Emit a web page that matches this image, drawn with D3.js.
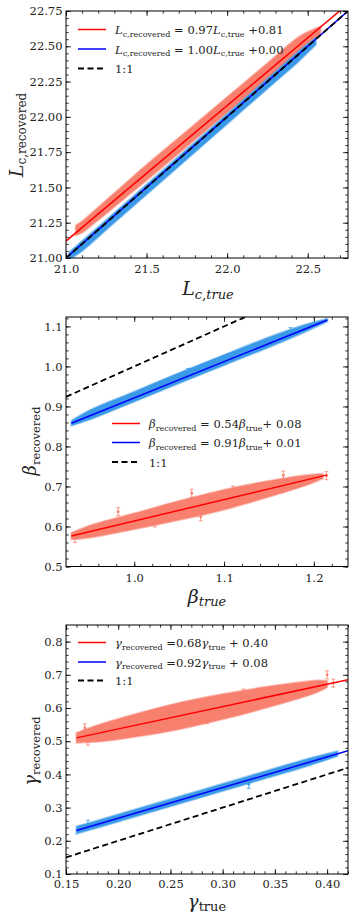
<!DOCTYPE html>
<html>
<head>
<meta charset="utf-8">
<script src="https://cdn.jsdelivr.net/npm/d3@7"></script>
<style>
  body { margin: 0; background: #fff; }
  svg { display: block; }
  svg text { font-family: "DejaVu Serif", "Liberation Serif", "Times New Roman", serif !important; fill: #222; }
</style>
</head>
<body>
<div class="chart"></div>
<script>
// ---- panel 1 : L_c
const lcTicksX = [21.0, 21.5, 22.0, 22.5]
const lcTicksY = [21.0, 21.25, 21.5, 21.75, 22.0, 22.25, 22.5, 22.75]
const lcRedX  = [21.06, 21.10, 21.20, 21.35, 21.50, 21.75, 22.00, 22.25, 22.45, 22.58]
const lcRedLo = [21.16, 21.18, 21.27, 21.41, 21.55, 21.79, 22.03, 22.27, 22.47, 22.59]
const lcRedHi = [21.23, 21.26, 21.36, 21.51, 21.66, 21.90, 22.14, 22.38, 22.57, 22.64]
const lcBlueX  = [21.02, 21.10, 21.25, 21.50, 21.75, 22.00, 22.25, 22.45, 22.55]
const lcBlueLo = [20.99, 21.05, 21.20, 21.45, 21.70, 21.95, 22.20, 22.40, 22.51]
const lcBlueHi = [21.04, 21.12, 21.27, 21.52, 21.77, 22.02, 22.27, 22.47, 22.56]
const lcFitX = [21.0, 22.75]
const lcRedFitY = [21.12, 22.80]
const lcBlueFitY = [21.0, 22.75]

// ---- panel 2 : beta
const betaTicksX = [1.0, 1.1, 1.2]
const betaTicksY = [0.5, 0.6, 0.7, 0.8, 0.9, 1.0, 1.1]
const betaRedX  = [0.93, 0.95, 1.00, 1.05, 1.10, 1.15, 1.19, 1.21]
const betaRedLo = [0.568, 0.572, 0.593, 0.616, 0.642, 0.674, 0.702, 0.720]
const betaRedHi = [0.584, 0.602, 0.633, 0.664, 0.692, 0.714, 0.728, 0.732]
const betaBlueX  = [0.93, 0.95, 1.00, 1.05, 1.10, 1.15, 1.19, 1.215]
const betaBlueLo = [0.852, 0.867, 0.912, 0.958, 1.003, 1.048, 1.086, 1.112]
const betaBlueHi = [0.864, 0.890, 0.937, 0.984, 1.029, 1.073, 1.104, 1.119]
const betaRedOutX = [0.934, 0.982, 1.023, 1.064, 1.074, 1.110, 1.166, 1.214]
const betaRedOutY = [0.570, 0.637, 0.609, 0.683, 0.624, 0.691, 0.728, 0.727]
const betaBlueOutX = [1.174, 1.060]
const betaBlueOutY = [1.087, 0.985]
const betaFitX = [0.93, 1.215]
const betaRedFitY = [0.576, 0.729]
const betaBlueFitY = [0.858, 1.116]
const betaOneX = [0.924, 1.238]

// ---- panel 3 : gamma
const gammaTicksX = [0.15, 0.20, 0.25, 0.30, 0.35, 0.40]
const gammaTicksY = [0.1, 0.2, 0.3, 0.4, 0.5, 0.6, 0.7, 0.8]
const gammaRedX  = [0.16, 0.18, 0.22, 0.26, 0.30, 0.34, 0.37, 0.39, 0.40]
const gammaRedLo = [0.495, 0.498, 0.515, 0.537, 0.566, 0.599, 0.626, 0.647, 0.662]
const gammaRedHi = [0.525, 0.548, 0.585, 0.617, 0.642, 0.663, 0.676, 0.683, 0.682]
const gammaBlueX  = [0.16, 0.18, 0.22, 0.26, 0.30, 0.34, 0.38, 0.41]
const gammaBlueLo = [0.221, 0.239, 0.276, 0.313, 0.350, 0.387, 0.424, 0.455]
const gammaBlueHi = [0.243, 0.261, 0.298, 0.335, 0.372, 0.409, 0.446, 0.470]
const gammaRedOutX = [0.168, 0.171, 0.189, 0.230, 0.285, 0.320, 0.400, 0.406]
const gammaRedOutY = [0.540, 0.500, 0.535, 0.575, 0.565, 0.645, 0.700, 0.675]
const gammaBlueOutX = [0.171, 0.325]
const gammaBlueOutY = [0.250, 0.370]
const gammaFitX = [0.16, 0.42]
const gammaRedFitY = [0.51, 0.685]
const gammaBlueFitY = [0.231, 0.471]
const gammaOneX = [0.15, 0.42]

const salmon = "#f8806f"
const skyblue = "#3a9ae8"
const serif = '"DejaVu Serif", "Liberation Serif", "Times New Roman", serif'

const svg = d3.select(".chart").append("svg")
  .attr("width", 357)
  .attr("height", 920)
  .attr("font-family", serif)

const zip = (a, b, c) => a.map((v, i) => c ? [v, b[i], c[i]] : [v, b[i]])

const panels = [
  {
    id: 1, top: 11, bottom: 258,
    xDomain: [21.0, 22.75], yDomain: [21.0, 22.75],
    xTicks: lcTicksX, yTicks: lcTicksY, xMinor: 0.1, yMinor: 0.05,
    xFmt: d3.format(".1f"), yFmt: d3.format(".2f"),
    bands: [
      { pts: zip(lcRedX, lcRedLo, lcRedHi), color: salmon },
      { pts: zip(lcBlueX, lcBlueLo, lcBlueHi), color: skyblue }
    ],
    outliers: [],
    lines: [
      { pts: zip(lcFitX, lcBlueFitY), color: "#0000ff" },
      { pts: zip(lcFitX, lcRedFitY), color: "#ff0000" },
      { pts: zip(lcFitX, lcFitX), color: "#000", dash: true }
    ],
    labelPad: 7
  },
  {
    id: 2, top: 317, bottom: 566.5,
    xDomain: [0.924, 1.238], yDomain: [0.5, 1.1235],
    xTicks: betaTicksX, yTicks: betaTicksY, xMinor: 0.02, yMinor: 0.02,
    xFmt: d3.format(".1f"), yFmt: d3.format(".1f"),
    bands: [
      { pts: zip(betaRedX, betaRedLo, betaRedHi), color: salmon },
      { pts: zip(betaBlueX, betaBlueLo, betaBlueHi), color: skyblue }
    ],
    outliers: [
      { pts: zip(betaRedOutX, betaRedOutY), color: salmon },
      { pts: zip(betaBlueOutX, betaBlueOutY), color: skyblue }
    ],
    lines: [
      { pts: zip(betaFitX, betaRedFitY), color: "#ff0000" },
      { pts: zip(betaFitX, betaBlueFitY), color: "#0000ff" },
      { pts: zip(betaOneX, betaOneX), color: "#000", dash: true }
    ],
    labelPad: 7
  },
  {
    id: 3, top: 625, bottom: 874,
    xDomain: [0.15, 0.42], yDomain: [0.1, 0.85],
    xTicks: gammaTicksX, yTicks: gammaTicksY, xMinor: 0.01, yMinor: 0.02,
    xFmt: d3.format(".2f"), yFmt: d3.format(".1f"),
    bands: [
      { pts: zip(gammaRedX, gammaRedLo, gammaRedHi), color: salmon },
      { pts: zip(gammaBlueX, gammaBlueLo, gammaBlueHi), color: skyblue }
    ],
    outliers: [
      { pts: zip(gammaRedOutX, gammaRedOutY), color: salmon },
      { pts: zip(gammaBlueOutX, gammaBlueOutY), color: skyblue }
    ],
    lines: [
      { pts: zip(gammaFitX, gammaRedFitY), color: "#ff0000" },
      { pts: zip(gammaFitX, gammaBlueFitY), color: "#0000ff" },
      { pts: zip(gammaOneX, gammaOneX), color: "#000", dash: true }
    ],
    labelPad: 6
  }
]

const left = 66, right = 348

// minor tick values between domain ends
const minorTicks = (dom, step) => {
  const out = []
  const n0 = Math.ceil(dom[0] / step - 1e-6), n1 = Math.floor(dom[1] / step + 1e-6)
  for (let n = n0; n <= n1; n++) out.push(+(n * step).toFixed(4))
  return out
}

panels.forEach(p => {
  const x = d3.scaleLinear().domain(p.xDomain).range([left, right])
  const y = d3.scaleLinear().domain(p.yDomain).range([p.bottom, p.top])
  const g = svg.append("g")

  g.append("clipPath").attr("id", "clip" + p.id)
    .append("rect")
    .attr("x", left).attr("y", p.top)
    .attr("width", right - left).attr("height", p.bottom - p.top)

  const plot = g.append("g").attr("clip-path", `url(#clip${p.id})`)

  // scatter clouds drawn as bands
  const area = d3.area()
    .x(d => x(d[0])).y0(d => y(d[1])).y1(d => y(d[2]))
    .curve(d3.curveCatmullRom)
  p.bands.forEach(b => {
    plot.append("path").datum(b.pts)
      .attr("d", area)
      .attr("fill", b.color)
      .attr("stroke", b.color)
      .attr("stroke-width", 2)
      .attr("stroke-opacity", 0.5)
  })

  // stray points with error bars
  p.outliers.forEach(o => {
    const sel = plot.selectAll(null).data(o.pts).enter().append("g")
    sel.append("line")
      .attr("x1", d => x(d[0])).attr("x2", d => x(d[0]))
      .attr("y1", d => y(d[1]) - 4).attr("y2", d => y(d[1]) + 4)
      .attr("stroke", o.color).attr("stroke-width", 0.8)
    sel.append("line")
      .attr("x1", d => x(d[0]) - 2).attr("x2", d => x(d[0]) + 2)
      .attr("y1", d => y(d[1]) - 4).attr("y2", d => y(d[1]) - 4)
      .attr("stroke", o.color).attr("stroke-width", 0.8)
    sel.append("line")
      .attr("x1", d => x(d[0]) - 2).attr("x2", d => x(d[0]) + 2)
      .attr("y1", d => y(d[1]) + 4).attr("y2", d => y(d[1]) + 4)
      .attr("stroke", o.color).attr("stroke-width", 0.8)
    sel.append("circle")
      .attr("cx", d => x(d[0])).attr("cy", d => y(d[1]))
      .attr("r", 1.4).attr("fill", o.color)
  })

  const line = d3.line().x(d => x(d[0])).y(d => y(d[1]))
  p.lines.forEach(l => {
    plot.append("path").datum(l.pts)
      .attr("d", line)
      .attr("fill", "none")
      .attr("stroke", l.color)
      .attr("stroke-width", l.dash ? 1.8 : 1.5)
      .attr("stroke-dasharray", l.dash ? "6,3.5" : null)
  })

  // axes: major + minor on all four sides, ticks pointing in
  const axes = [
    [d3.axisBottom(x), "translate(0," + p.bottom + ")", p.xTicks, p.xDomain, p.xMinor, p.xFmt],
    [d3.axisTop(x), "translate(0," + p.top + ")", p.xTicks, p.xDomain, p.xMinor, null],
    [d3.axisLeft(y), "translate(" + left + ",0)", p.yTicks, p.yDomain, p.yMinor, p.yFmt],
    [d3.axisRight(y), "translate(" + right + ",0)", p.yTicks, p.yDomain, p.yMinor, null]
  ]
  axes.forEach(([ax, tr, ticks, dom, step, fmt], i) => {
    const major = g.append("g").attr("transform", tr)
      .call(ax.tickValues(ticks).tickSize(-5)
        .tickPadding(i === 0 ? p.labelPad : 3.5)
        .tickFormat(fmt ? fmt : ""))
      .attr("font-family", serif)
    major.select(".domain").remove()
    major.selectAll("text").attr("font-size", 11.5).attr("fill", "#222")
    const minor = g.append("g").attr("transform", tr)
      .call(ax.tickValues(minorTicks(dom, step)).tickSize(-2.7).tickFormat(""))
    minor.select(".domain").remove()
    g.selectAll(".tick line").attr("stroke", "#000").attr("stroke-width", 0.8)
  })

  g.append("rect")
    .attr("x", left).attr("y", p.top)
    .attr("width", right - left).attr("height", p.bottom - p.top)
    .attr("fill", "none").attr("stroke", "#000").attr("stroke-width", 1)
})

// ---- axis titles (math-like text with subscripts)
function mathText(sel, parts) {
  parts.forEach(pt => {
    const t = sel.append("tspan").text(pt.t)
    if (pt.size) t.attr("font-size", pt.size)
    if (pt.it) t.attr("font-style", "italic")
    if (pt.dy) t.attr("dy", pt.dy)
  })
  return sel
}

// x titles
mathText(svg.append("text").attr("x", 208).attr("y", 295).attr("text-anchor", "middle").attr("font-size", 19),
  [{ t: "L", it: true }, { t: "c,true", it: true, size: 13, dy: 4 }])
mathText(svg.append("text").attr("x", 207).attr("y", 603).attr("text-anchor", "middle").attr("font-size", 19),
  [{ t: "β", it: true }, { t: "true", it: true, size: 13, dy: 3 }])
mathText(svg.append("text").attr("x", 207).attr("y", 908).attr("text-anchor", "middle").attr("font-size", 18),
  [{ t: "γ", it: true }, { t: "true", size: 13, dy: 3 }])

// y titles
mathText(svg.append("text").attr("transform", "translate(23,135) rotate(-90)").attr("text-anchor", "middle").attr("font-size", 19),
  [{ t: "L", it: true }, { t: "c,recovered", size: 12, dy: 3 }])
mathText(svg.append("text").attr("transform", "translate(36,441) rotate(-90)").attr("text-anchor", "middle").attr("font-size", 18),
  [{ t: "β", it: true }, { t: "recovered", size: 11.5, dy: 4 }])
mathText(svg.append("text").attr("transform", "translate(37,751) rotate(-90)").attr("text-anchor", "middle").attr("font-size", 18),
  [{ t: "γ", it: true }, { t: "recovered", size: 11.5, dy: 3 }])

// ---- legends
const legendRows = [
  { x: 78, y: 29.5, color: "#ff0000", parts: [{ t: "L", it: true }, { t: "c,recovered", size: 8, dy: 2.5 }, { t: " = 0.97", dy: -2.5 }, { t: "L", it: true }, { t: "c,true", size: 8, dy: 2.5 }, { t: " +0.81", dy: -2.5 }] },
  { x: 78, y: 49, color: "#0000ff", parts: [{ t: "L", it: true }, { t: "c,recovered", size: 8, dy: 2.5 }, { t: " = 1.00", dy: -2.5 }, { t: "L", it: true }, { t: "c,true", size: 8, dy: 2.5 }, { t: " +0.00", dy: -2.5 }] },
  { x: 78, y: 68.5, color: "#000", dash: true, parts: [{ t: "1:1" }] },
  { x: 112, y: 423.5, color: "#ff0000", parts: [{ t: "β", it: true }, { t: "recovered", size: 8, dy: 2.5 }, { t: " = 0.54", dy: -2.5 }, { t: "β", it: true }, { t: "true", size: 8, dy: 2.5 }, { t: "+ 0.08", dy: -2.5 }] },
  { x: 112, y: 442.5, color: "#0000ff", parts: [{ t: "β", it: true }, { t: "recovered", size: 8, dy: 2.5 }, { t: " = 0.91", dy: -2.5 }, { t: "β", it: true }, { t: "true", size: 8, dy: 2.5 }, { t: "+ 0.01", dy: -2.5 }] },
  { x: 112, y: 462, color: "#000", dash: true, parts: [{ t: "1:1" }] },
  { x: 78, y: 642.5, color: "#ff0000", parts: [{ t: "γ", it: true }, { t: "recovered", size: 8, dy: 2.5 }, { t: " =0.68", dy: -2.5 }, { t: "γ", it: true }, { t: "true", size: 8, dy: 2.5 }, { t: " + 0.40", dy: -2.5 }] },
  { x: 78, y: 662, color: "#0000ff", parts: [{ t: "γ", it: true }, { t: "recovered", size: 8, dy: 2.5 }, { t: " =0.92", dy: -2.5 }, { t: "γ", it: true }, { t: "true", size: 8, dy: 2.5 }, { t: " + 0.08", dy: -2.5 }] },
  { x: 78, y: 680.5, color: "#000", dash: true, parts: [{ t: "1:1" }] }
]
legendRows.forEach(r => {
  svg.append("line")
    .attr("x1", r.x).attr("x2", r.x + 28)
    .attr("y1", r.y).attr("y2", r.y)
    .attr("stroke", r.color)
    .attr("stroke-width", r.dash ? 1.8 : 1.5)
    .attr("stroke-dasharray", r.dash ? "6,3.5" : null)
  mathText(svg.append("text").attr("x", r.x + 37).attr("y", r.y + 4.5).attr("font-size", 11.5), r.parts)
})
</script>
</body>
</html>
